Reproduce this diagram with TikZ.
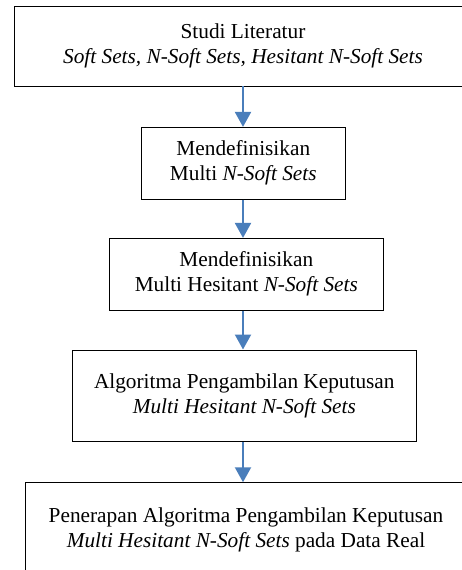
\documentclass[tikz,border=0pt]{standalone}
\usepackage{fontspec}
\setmainfont{Liberation Serif}
\usetikzlibrary{arrows.meta}
\definecolor{arrblue}{HTML}{4A7EBB}
\begin{document}
\begin{tikzpicture}[x=1pt,y=-1pt,
  box/.style={draw=black,line width=0.9pt,inner sep=0pt,align=center,
    font=\fontsize{21.3}{25}\selectfont},
  arr/.style={draw=arrblue,line width=2.2pt,-{Triangle[length=15pt,width=16pt]}}]
\useasboundingbox (0,0) rectangle (462,570);
\clip (0,0) rectangle (462,570);
\fill[white] (0,0) rectangle (462,570);
\node[box,minimum width=458pt,minimum height=80pt] (b1) at (243,46)
  {Studi Literatur\\\textit{Soft Sets, N-Soft Sets, Hesitant N-Soft Sets}};
\node[box,minimum width=203.3pt,minimum height=71.7pt] (b2) at (243.3,163.2)
  {Mendefinisikan\\Multi \textit{N-Soft Sets}};
\node[box,minimum width=274pt,minimum height=71.7pt] (b3) at (246.3,274.2)
  {Mendefinisikan\\Multi Hesitant \textit{N-Soft Sets}};
\node[box,minimum width=343.3pt,minimum height=91.7pt] (b4) at (244.3,395.8)
  {Algoritma Pengambilan Keputusan\\\textit{Multi Hesitant N-Soft Sets}};
\node[box,minimum width=442pt,minimum height=94.6pt] (b5) at (246,530)
  {Penerapan Algoritma Pengambilan Keputusan\\\textit{Multi Hesitant N-Soft Sets} pada Data Real};
\coordinate (ax) at (243,0);
\draw[arr] (b1.south -| ax) -- (b2.north -| ax);
\draw[arr] (b2.south -| ax) -- (b3.north -| ax);
\draw[arr] (b3.south -| ax) -- (b4.north -| ax);
\draw[arr] (b4.south -| ax) -- (b5.north -| ax);
\end{tikzpicture}
\end{document}
